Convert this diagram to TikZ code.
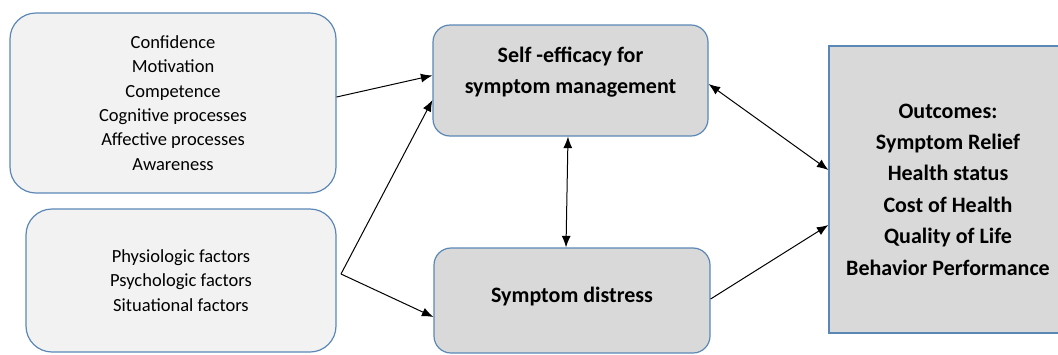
\documentclass[tikz,border=0pt]{standalone}
\usepackage{fontspec}
\setmainfont{Carlito}
\usetikzlibrary{arrows.meta}
\definecolor{boxline}{HTML}{5B87B6}
\definecolor{lightfill}{HTML}{F2F2F2}
\definecolor{darkfill}{HTML}{D9D9D9}
\tikzstyle{factor} = [rectangle, rounded corners=26pt, draw=boxline, line width=1.2pt, fill=lightfill, align=center, inner sep=0, font=\fontsize{18.5}{24.4}\selectfont]
\tikzstyle{core} = [rectangle, rounded corners=17pt, draw=boxline, line width=1.2pt, fill=darkfill, inner sep=0]
\tikzstyle{coretext} = [align=center, inner sep=0, font=\bfseries\fontsize{22}{31}\selectfont]
\tikzstyle{outbox} = [rectangle, draw=boxline, line width=1.2pt, fill=darkfill, align=center, inner sep=0, font=\bfseries\fontsize{22}{31.4}\selectfont]
\tikzstyle{arrow} = [line width=1pt, -{Latex[length=11.5pt,width=9pt]}]
\tikzstyle{twoway} = [line width=1pt, {Latex[length=11.5pt,width=9pt]}-{Latex[length=11.5pt,width=9pt]}]

\begin{document}
\begin{tikzpicture}[x=1pt,y=-1pt]
\useasboundingbox (0,0) rectangle (1058,354);
% left side: influencing factors
\node[factor, minimum width=326pt, minimum height=180pt] (conf) at (173,103)
  {Confidence\\Motivation\\Competence\\Cognitive processes\\Affective processes\\Awareness};
\node[factor, minimum width=310pt, minimum height=143pt] (phys) at (181,280.5)
  {Physiologic factors\\Psychologic factors\\Situational factors};
% middle
\node[core, minimum width=275pt, minimum height=111pt] (sem) at (570.5,80.5) {};
\node[coretext] (semtext) at ([yshift=8pt]sem.center) {Self -efficacy for\\symptom management};
\node[core, minimum width=276pt, minimum height=105pt] (dis) at (572,300.5) {};
\node[coretext] (distext) at ([yshift=4pt]dis.center) {Symptom distress};
% right
\node[outbox, minimum width=238pt, minimum height=287pt] (out) at (948,189.5)
  {Outcomes:\\Symptom Relief\\Health status\\Cost of Health\\Quality of Life\\Behavior Performance};
\coordinate (split) at (341,274);
\draw[arrow] ([yshift=6pt]conf.east)--([yshift=5pt]sem.west);
\draw[arrow] (split)--([yshift=-19.5pt]sem.west);
\draw[arrow] (split)--([yshift=-16.5pt]dis.west);
\draw[twoway] ([xshift=-2.5pt]sem.south)--([xshift=-6pt]dis.north);
\draw[twoway] ([yshift=-3.5pt]sem.east)--([yshift=19.5pt]out.west);
\draw[arrow] ([yshift=1.5pt]dis.east)--([yshift=-35.5pt]out.west);
\end{tikzpicture}
\end{document}
